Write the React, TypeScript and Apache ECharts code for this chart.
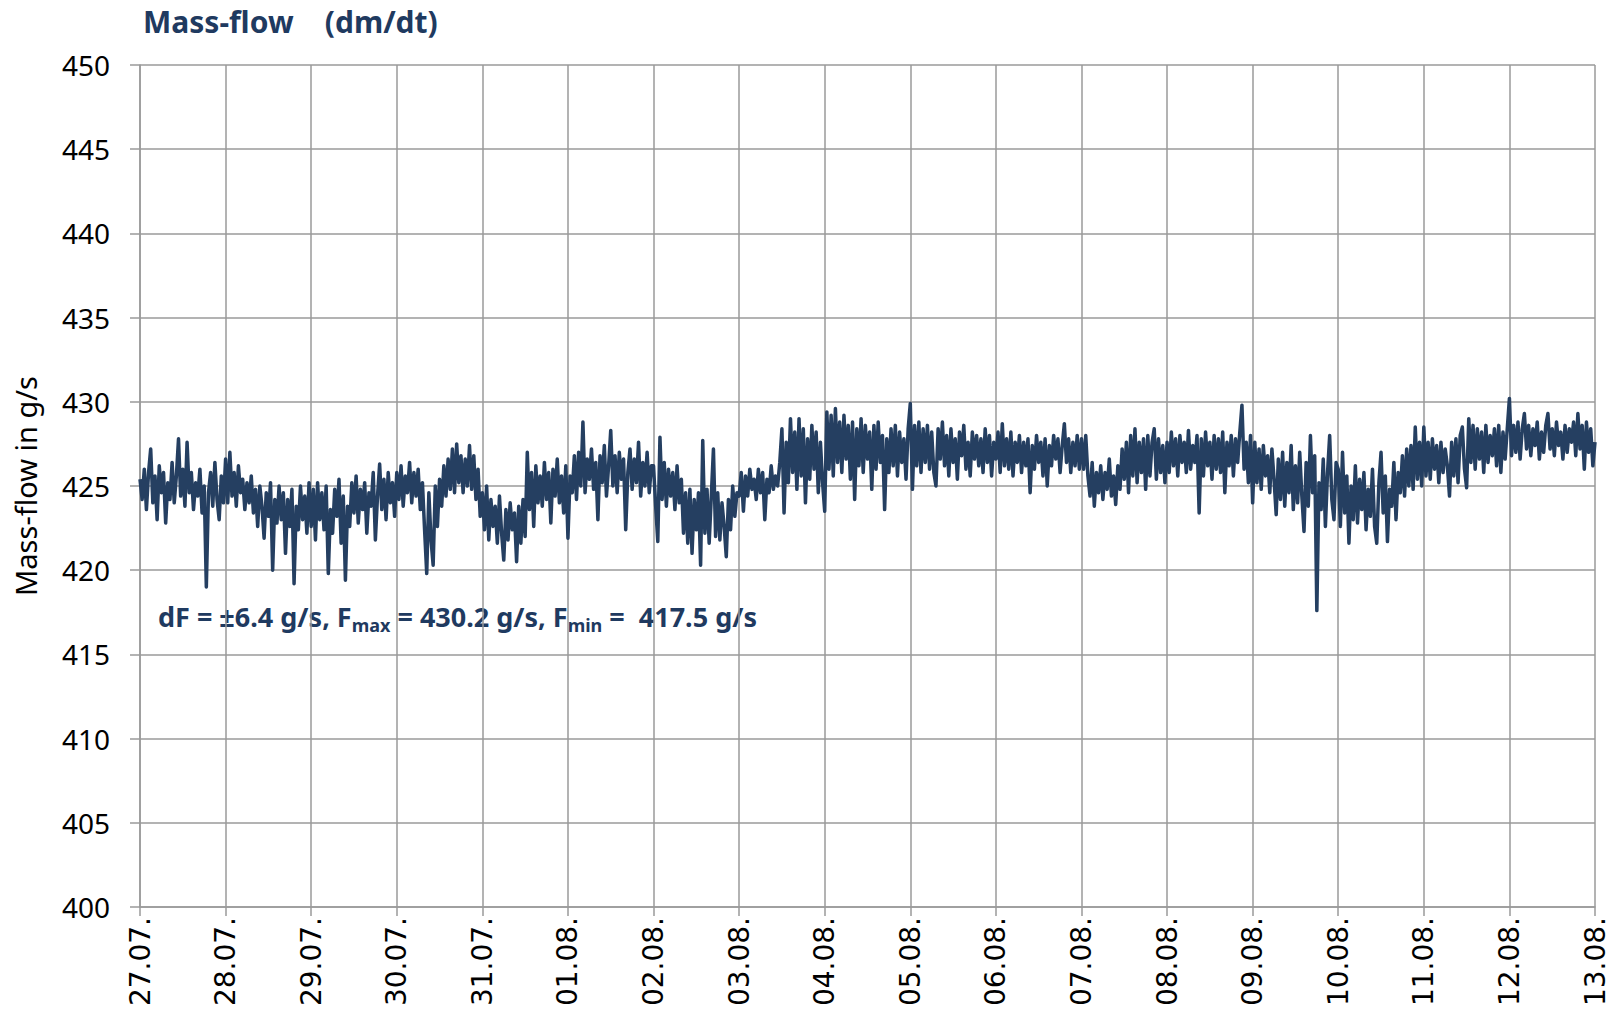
import React, { useEffect, useRef } from "react";
import * as echarts from "echarts";

// Tick labels of the x axis (one per day)
const dayLabels = [
  "27.07.", "28.07.", "29.07.", "30.07.", "31.07.", "01.08.", "02.08.", "03.08.", "04.08.",
  "05.08.", "06.08.", "07.08.", "08.08.", "09.08.", "10.08.", "11.08.", "12.08.", "13.08.",
];

// Y axis range
const yMin = 400;
const yMax = 450;
const yStep = 5;

// Samples per day (40 samples = every 36 min)
const samplesPerDay = 40;

// Mass-flow readings in g/s, one array per day
const flow_27_07 = [425.4, 424.2, 426.0, 423.6, 425.8, 427.2, 424.0, 425.6, 423.0, 426.2, 424.6, 425.8, 422.8, 425.2, 424.2, 426.4, 424.0, 425.6, 427.8, 424.4, 426.0, 423.8, 427.6, 424.6, 425.8, 423.6, 425.2, 424.4, 426.0, 423.4, 425.0, 419.0, 424.6, 425.8, 423.8, 426.4, 424.2, 423.0, 425.6, 424.0];
const flow_28_07 = [426.6, 424.0, 427.0, 424.4, 425.8, 423.8, 426.2, 424.6, 425.4, 423.6, 425.2, 424.0, 425.6, 423.4, 424.8, 422.6, 425.0, 423.8, 421.9, 424.6, 423.2, 425.2, 420.0, 424.2, 422.8, 425.0, 423.0, 424.6, 421.0, 424.2, 422.6, 424.8, 419.2, 423.8, 422.4, 425.0, 423.0, 424.4, 422.2, 425.2];
const flow_29_07 = [422.6, 424.8, 421.8, 425.2, 423.0, 424.6, 422.4, 425.0, 419.8, 423.6, 422.2, 424.8, 423.2, 425.4, 421.6, 424.4, 419.4, 423.8, 422.6, 425.2, 423.4, 425.6, 422.8, 424.8, 423.6, 425.2, 422.2, 424.6, 423.8, 425.8, 421.8, 424.4, 426.3, 423.6, 425.4, 423.0, 425.8, 424.0, 425.2, 423.2];
const flow_30_07 = [425.8, 424.2, 426.2, 423.8, 425.6, 424.6, 426.4, 424.0, 425.8, 424.4, 426.0, 423.6, 425.2, 422.4, 419.8, 424.6, 421.8, 420.3, 425.0, 422.6, 425.4, 423.8, 426.2, 424.4, 426.6, 424.8, 427.2, 424.6, 427.5, 425.2, 426.8, 424.6, 426.6, 425.0, 427.4, 424.8, 426.8, 424.2, 426.0, 423.2];
const flow_31_07 = [424.6, 422.4, 425.0, 421.8, 424.2, 422.6, 423.8, 421.6, 424.4, 422.2, 420.6, 423.6, 421.8, 424.0, 422.4, 423.4, 420.5, 423.8, 421.6, 424.2, 422.0, 427.0, 423.6, 425.8, 422.6, 426.2, 424.0, 425.6, 423.8, 426.4, 424.2, 425.8, 422.8, 426.0, 424.4, 426.6, 424.0, 425.6, 423.4, 426.2];
const flow_01_08 = [421.9, 425.6, 424.6, 426.8, 424.2, 427.0, 425.0, 428.8, 424.6, 426.6, 425.4, 427.2, 424.8, 426.4, 423.0, 426.8, 425.2, 427.4, 424.4, 426.2, 428.3, 425.0, 426.8, 424.6, 427.0, 425.4, 426.6, 422.4, 425.8, 427.2, 424.8, 426.6, 425.2, 427.6, 424.4, 426.4, 425.0, 427.0, 424.6, 426.2];
const flow_02_08 = [426.2, 423.8, 421.7, 427.9, 424.2, 426.4, 423.8, 426.0, 424.4, 425.8, 423.6, 426.2, 424.0, 425.4, 422.2, 424.6, 421.6, 424.8, 421.0, 424.2, 422.4, 424.6, 420.3, 427.7, 422.2, 424.8, 421.6, 424.4, 427.2, 422.0, 424.6, 421.8, 424.0, 422.6, 420.8, 424.2, 422.4, 425.0, 423.2, 424.6];
const flow_03_08 = [424.4, 425.8, 423.5, 425.6, 424.4, 426.0, 424.8, 425.4, 424.2, 426.0, 424.6, 425.8, 423.0, 425.4, 424.6, 426.2, 424.8, 425.6, 425.0, 426.4, 428.4, 423.4, 427.6, 425.2, 429.0, 425.8, 428.2, 424.8, 429.0, 425.6, 428.4, 424.0, 427.8, 425.4, 428.6, 426.0, 428.2, 424.6, 427.6, 425.2];
const flow_04_08 = [423.5, 429.4, 426.0, 429.2, 425.6, 429.6, 426.4, 428.8, 425.8, 429.2, 426.6, 428.6, 425.4, 428.8, 424.2, 428.4, 426.2, 429.0, 425.8, 428.6, 426.6, 428.2, 424.8, 428.6, 426.0, 428.8, 426.4, 428.0, 423.6, 427.8, 425.8, 428.4, 426.2, 428.6, 425.6, 428.2, 426.4, 427.8, 425.4, 428.4];
const flow_05_08 = [429.9, 424.8, 428.6, 426.2, 428.8, 425.8, 428.4, 426.4, 428.6, 426.0, 428.2, 425.8, 425.0, 428.4, 426.6, 428.8, 426.2, 428.0, 425.6, 428.4, 426.4, 427.8, 425.4, 428.2, 426.8, 428.6, 426.0, 427.6, 425.6, 428.2, 426.6, 428.0, 426.2, 427.8, 425.8, 428.4, 426.4, 428.0, 425.6, 427.6];
const flow_06_08 = [426.6, 428.2, 425.8, 428.7, 426.2, 427.8, 426.0, 428.2, 425.6, 427.6, 426.4, 428.0, 425.8, 427.6, 426.2, 427.8, 424.6, 427.4, 426.0, 428.0, 426.4, 427.6, 425.6, 427.8, 425.0, 427.4, 426.2, 428.0, 426.6, 427.8, 425.8, 427.4, 428.7, 426.4, 427.8, 425.8, 427.6, 426.2, 428.0, 426.0];
const flow_07_08 = [427.8, 426.0, 428.0, 425.6, 424.4, 426.4, 423.8, 425.8, 424.6, 426.2, 424.2, 425.8, 424.8, 426.6, 424.4, 425.6, 423.9, 426.2, 424.8, 427.2, 425.4, 427.6, 424.6, 428.0, 425.6, 428.4, 425.2, 427.6, 425.8, 427.8, 424.8, 428.0, 425.6, 427.6, 428.4, 425.4, 427.8, 425.8, 427.4, 425.2];
const flow_08_08 = [427.6, 425.8, 428.2, 426.2, 427.8, 425.6, 428.0, 426.4, 427.6, 425.8, 428.3, 426.0, 427.4, 426.4, 428.0, 423.4, 427.8, 425.6, 428.2, 426.2, 427.6, 425.4, 428.0, 426.0, 427.8, 425.8, 428.2, 424.6, 427.6, 426.2, 428.0, 425.6, 427.8, 426.4, 428.2, 429.8, 426.0, 427.6, 425.2, 428.0];
const flow_09_08 = [424.0, 427.6, 425.2, 427.2, 424.8, 427.4, 425.6, 426.8, 424.6, 427.2, 425.4, 423.3, 426.6, 424.2, 427.0, 423.8, 426.4, 424.6, 427.4, 423.6, 426.2, 424.0, 427.0, 424.4, 422.3, 426.4, 423.8, 428.0, 424.6, 426.8, 417.6, 425.2, 423.6, 426.6, 422.6, 425.8, 428.0, 424.2, 423.0, 426.4];
const flow_10_08 = [426.0, 422.6, 427.0, 423.4, 425.6, 421.6, 425.0, 423.0, 426.2, 422.8, 425.4, 423.6, 425.8, 422.4, 424.8, 423.2, 426.0, 422.6, 421.6, 425.2, 427.0, 423.4, 425.6, 421.7, 424.8, 423.8, 426.4, 423.0, 425.8, 424.6, 426.8, 424.4, 427.2, 425.0, 427.4, 424.8, 428.5, 425.4, 427.6, 425.0];
const flow_11_08 = [428.5, 425.6, 427.6, 425.4, 427.8, 426.0, 427.4, 425.2, 427.6, 425.8, 427.2, 426.2, 424.4, 427.6, 425.6, 427.8, 425.2, 428.0, 428.5, 426.0, 424.9, 429.0, 426.4, 428.6, 426.0, 428.4, 426.6, 428.2, 425.8, 428.6, 426.4, 428.0, 426.8, 428.4, 426.2, 428.6, 425.8, 428.2, 426.6, 428.4];
const flow_12_08 = [430.2, 426.8, 428.6, 427.0, 428.8, 426.6, 428.4, 429.3, 427.2, 428.6, 426.8, 428.4, 427.4, 428.8, 426.6, 428.2, 427.0, 428.6, 429.3, 427.2, 428.4, 426.8, 428.8, 427.4, 428.2, 426.6, 428.6, 427.0, 428.4, 427.6, 428.8, 426.8, 429.3, 427.2, 428.6, 426.0, 428.8, 427.0, 428.4, 426.2];
const flow_13_08 = [427.6];

const flowDays = [
  flow_27_07, flow_28_07, flow_29_07, flow_30_07, flow_31_07, flow_01_08, flow_02_08, flow_03_08, flow_04_08,
  flow_05_08, flow_06_08, flow_07_08, flow_08_08, flow_09_08, flow_10_08, flow_11_08, flow_12_08, flow_13_08,
];

const titleText = "Mass-flow    (dm/dt)";
const yAxisName = "Mass-flow in g/s";

const NAVY = "#1f3a60";
const LINE = "#253f61";
const GRID = "#9a9a9a";

export default function App() {
  const ref = useRef<HTMLDivElement>(null);

  useEffect(() => {
    if (!ref.current) return;
    const chart = echarts.init(ref.current, undefined, { renderer: "svg" });

    const values = flowDays.flat();
    const data = values.map((v, i) => [i / samplesPerDay, v]);

    chart.setOption({
      animation: false,
      backgroundColor: "#ffffff",
      grid: {
        left: 140,
        right: 27,
        top: 65,
        bottom: 105,
        containLabel: false,
        outerBoundsMode: "none",
      },
      xAxis: {
        type: "value",
        min: 0,
        max: dayLabels.length - 1,
        interval: 1,
        axisLine: { show: true, lineStyle: { color: GRID, width: 1.5 } },
        axisTick: { show: true, length: 9, lineStyle: { color: GRID, width: 1.5 } },
        splitLine: { show: true, lineStyle: { color: GRID, width: 1.5 } },
        axisLabel: {
          rotate: 90,
          margin: 10,
          fontFamily: "DejaVu Sans",
          fontSize: 28,
          color: "#000000",
          formatter: (v: number) => dayLabels[Math.round(v)] ?? "",
        },
      },
      yAxis: {
        type: "value",
        min: yMin,
        max: yMax,
        interval: yStep,
        name: yAxisName,
        nameLocation: "middle",
        nameGap: 100,
        nameTextStyle: { fontFamily: "Noto Sans", fontSize: 29, color: "#000000" },
        axisLine: { show: true, lineStyle: { color: GRID, width: 1.5 } },
        axisTick: { show: true, length: 10, lineStyle: { color: GRID, width: 1.5 } },
        splitLine: { show: true, lineStyle: { color: GRID, width: 1.5 } },
        axisLabel: {
          margin: 30,
          fontFamily: "Noto Sans",
          fontSize: 28,
          color: "#000000",
        },
      },
      series: [
        {
          type: "line",
          data,
          showSymbol: false,
          symbol: "none",
          lineStyle: { color: LINE, width: 3.5, join: "round" },
          clip: true,
        },
      ],
      graphic: [
        {
          type: "text",
          left: 143,
          top: 6,
          style: {
            text: titleText,
            fontFamily: "Noto Sans",
            fontWeight: "bold",
            fontSize: 30,
            fill: NAVY,
          },
        },
        {
          type: "text",
          left: 158,
          top: 603,
          style: {
            text: "{m|dF = ±6.4 g/s, F}{s|max}{m| = 430.2 g/s, F}{s|min}{m| =  417.5 g/s}",
            rich: {
              m: {
                fontFamily: "Noto Sans",
                fontWeight: "bold",
                fontSize: 27,
                fill: NAVY,
              },
              s: {
                fontFamily: "Noto Sans",
                fontWeight: "bold",
                fontSize: 18,
                fill: NAVY,
                padding: [17, 0, 0, 0],
              },
            },
          },
        },
      ],
    });

    return () => chart.dispose();
  }, []);

  return <div ref={ref} style={{ width: 1622, height: 1012, margin: -8 }} />;
}
